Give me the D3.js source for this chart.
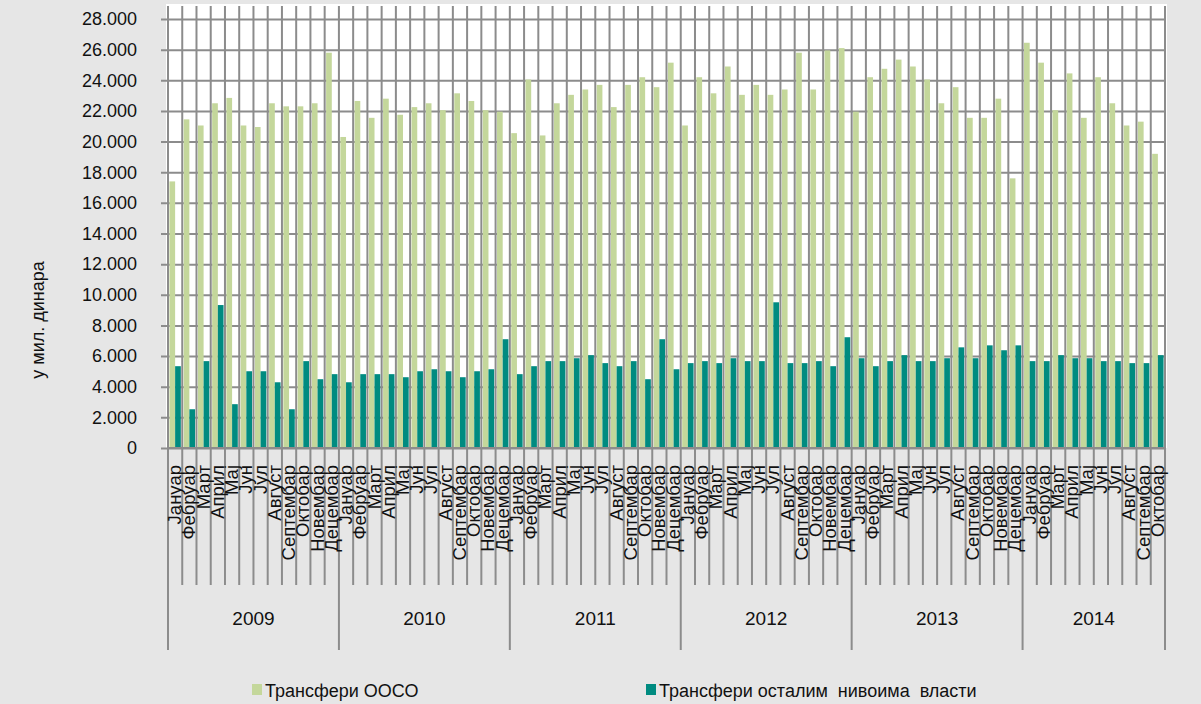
<!DOCTYPE html>
<html><head><meta charset="utf-8">
<script src="https://cdn.jsdelivr.net/npm/d3@7"></script>
<style>html,body{margin:0;padding:0;background:#e6e6e6;}svg{display:block;font-family:"Liberation Sans",Arial,sans-serif;}</style>
</head><body>
<svg id="c" width="1201" height="704"></svg>
<script>
const years = ["2009","2010","2011","2012","2013","2014"];
const monthNames = ["Јануар","Фебруар","Март","Април","Мај","Јун","Јул","Август","Септембар","Октобар","Новембар","Децембар"];
const monthsPerYear = [12,12,12,12,12,10];
const seriesNames = ["Трансфери ООСО","Трансфери осталим  нивоима  власти"];
const ooso = [
 17400,21450,21050,22500,22850,21050,20950,22500,22300,22300,22500,25800,
 20300,22650,21550,22800,21750,22250,22500,22050,23150,22650,22050,21950,
 20550,24050,20400,22500,23050,23400,23700,22250,23700,24200,23550,25150,
 21050,24200,23150,24900,23050,23700,23050,23400,25800,23400,25950,26100,
 21950,24200,24750,25350,24900,24050,22500,23550,21550,21550,22800,17600,
 26450,25150,22050,24450,21550,24200,22500,21050,21300,19200];
const other = [
 5340,2530,5670,9330,2860,5010,5010,4290,2530,5670,4490,4820,
 4290,4820,4820,4820,4620,5010,5140,5010,4620,5010,5140,7100,
 4820,5340,5670,5670,5860,6060,5540,5340,5670,4490,7100,5140,
 5540,5670,5540,5860,5670,5670,9510,5540,5540,5670,5340,7230,
 5860,5340,5670,6060,5670,5670,5860,6570,5860,6700,6380,6700,
 5670,5670,6060,5860,5860,5670,5670,5540,5540,6060];
const yTicks = [0,2000,4000,6000,8000,10000,12000,14000,16000,18000,20000,22000,24000,26000,28000];
const yTitle = "у мил. динара";

// build category table
const cats = [];
years.forEach((y,yi)=>{ for(let m=0;m<monthsPerYear[yi];m++) cats.push({key:y+"-"+m, year:y, month:monthNames[m]}); });
const rows = cats.map((c,i)=>({...c, v:[ooso[i], other[i]]}));

const colors = ["#c4d79b","#008b80"];
const grid = "#8c8c8c";
const svg = d3.select("#c");
const X0=168, X1=1165, Y0=448, YT=19;

const x = d3.scaleBand().domain(cats.map(c=>c.key)).range([X0,X1]).paddingInner(0.2).paddingOuter(0.1);
const step = x.step();
const xs = d3.scaleBand().domain([0,1]).range([0,x.bandwidth()]);
const y = d3.scaleLinear().domain([0,28000]).range([Y0,YT]);
const loc = d3.formatLocale({decimal:",",thousands:".",grouping:[3],currency:["",""]});
const fmt = loc.format(",d");

// plot area
svg.append("rect").attr("x",166).attr("y",4).attr("width",X1+2-166).attr("height",Y0-4).attr("fill","#fff");

// horizontal gridlines (via axis)
const ya = svg.append("g").attr("transform",`translate(${X0},0)`)
  .call(d3.axisLeft(y).tickValues(yTicks).tickSize(-(X1-X0)).tickSizeOuter(0).tickFormat(""));
ya.select(".domain").remove();
ya.selectAll(".tick line").attr("stroke",grid).attr("stroke-width",2).attr("x1",-7);

// vertical gridlines at category boundaries
const bounds = d3.range(cats.length+1).map(i=>X0+i*step);
svg.append("g").selectAll("line").data(bounds).join("line")
  .attr("x1",d=>d).attr("x2",d=>d).attr("y1",6).attr("y2",Y0)
  .attr("stroke",grid).attr("stroke-width",2);

// bars
const g = svg.append("g").selectAll("g").data(rows).join("g").attr("transform",d=>`translate(${x(d.key)},0)`);
g.selectAll("rect").data(d=>d.v.map((v,i)=>({v,i}))).join("rect")
  .attr("x",d=>xs(d.i)).attr("width",xs.bandwidth())
  .attr("y",d=>y(d.v)).attr("height",d=>Y0-y(d.v))
  .attr("fill",d=>colors[d.i]);

// y tick labels
svg.append("g").selectAll("text").data(yTicks).join("text")
  .attr("x",137).attr("y",d=>y(d)).attr("dy","0.35em").attr("text-anchor","end")
  .attr("font-size",18).attr("fill","#111").text(d=>fmt(d));

// x axis baseline
svg.append("line").attr("x1",X0-1).attr("x2",X1+1).attr("y1",Y0).attr("y2",Y0).attr("stroke",grid).attr("stroke-width",2);

// month separators below axis
const yearStartIdx = [];
let acc=0; monthsPerYear.forEach(n=>{yearStartIdx.push(acc); acc+=n;}); yearStartIdx.push(acc);
svg.append("g").selectAll("line").data(bounds).join("line")
  .attr("x1",d=>d).attr("x2",d=>d).attr("y1",Y0)
  .attr("y2",(d,i)=>yearStartIdx.includes(i)?650:585)
  .attr("stroke",grid).attr("stroke-width",2);

// month labels
svg.append("g").selectAll("text").data(cats).join("text")
  .attr("transform",d=>`translate(${x(d.key)+x.bandwidth()/2+6},465) rotate(-90)`)
  .attr("text-anchor","end").attr("font-size",18.5).attr("fill","#111").text(d=>d.month);

// year labels
svg.append("g").selectAll("text").data(years).join("text")
  .attr("x",(d,i)=>(bounds[yearStartIdx[i]]+bounds[yearStartIdx[i+1]])/2).attr("y",625)
  .attr("text-anchor","middle").attr("font-size",19).attr("fill","#111").text(d=>d);

// y title
svg.append("text").attr("transform","translate(44,320) rotate(-90)").attr("text-anchor","middle")
  .attr("font-size",18).attr("fill","#111").text(yTitle);

// legend
const legX=[252,646];
const lg = svg.append("g").selectAll("g").data(seriesNames).join("g").attr("transform",(d,i)=>`translate(${legX[i]},0)`);
lg.append("rect").attr("x",0).attr("y",684).attr("width",10).attr("height",11).attr("fill",(d,i)=>colors[i]);
lg.append("text").attr("x",13).attr("y",697).attr("font-size",18).attr("fill","#111").style("white-space","pre").text(d=>d);
</script>
</body></html>
